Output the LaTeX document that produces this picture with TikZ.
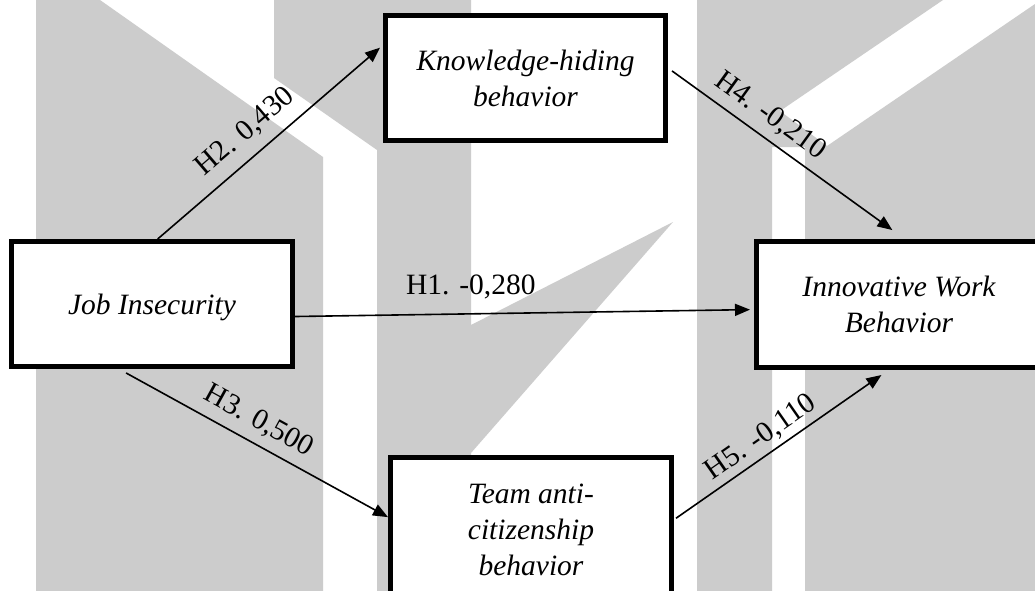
\documentclass[tikz,border=0pt]{standalone}
\usepackage{fontspec}
\setmainfont{Liberation Serif}
\usetikzlibrary{arrows.meta}
\definecolor{wmgray}{HTML}{CCCCCC}
\begin{document}
\begin{tikzpicture}[x=1pt,y=-1pt,
  wm/.style={fill=wmgray, draw=none},
  box/.style={draw, line width=4.8pt, fill=white, align=center, inner sep=0pt,
    font=\fontsize{29.5}{36}\selectfont\itshape},
  link/.style={line width=1.6pt, -{Triangle[length=15pt,width=12pt]}},
  lbl/.style={font=\fontsize{29.5}{36}\selectfont, inner sep=0pt}
]
\useasboundingbox (0,0) rectangle (1035,591);
\fill[white] (0,0) rectangle (1035,591);
% watermark
\fill[wm] (36,0) -- (100,0) -- (323,157) -- (323,591) -- (36,591) -- cycle;
\fill[wm] (274,0) -- (471,0) -- (471,325) -- (673,222) -- (471,453) -- (471,591)
  -- (377,591) -- (377,150) -- (274,78) -- cycle;
\fill[wm] (697,0) -- (943,0) -- (780,111) -- (827,146) -- (1035,4) -- (1035,591)
  -- (805,591) -- (805,147) -- (772,147) -- (772,591) -- (697,591) -- cycle;
% nodes
\node[box, minimum width=281.2pt, minimum height=125.2pt, text depth=0pt] (ji) at (152,304) {Job Insecurity};
\node[box, minimum width=280.2pt, minimum height=125.2pt] (kh) at (525.5,78) {Knowledge-hiding\\behavior};
\node[box, minimum width=285.2pt, minimum height=126.2pt] (iwb) at (899,304.5) {Innovative Work\\Behavior};
\node[box, minimum width=281.2pt, minimum height=144.5pt] (tac) at (531,529.65) {Team anti-\\citizenship\\behavior};
% connectors
\draw[link, shorten >=3.9pt] (ji.85.6) -- (kh.167.9)
  node[lbl, sloped, pos=0.458, yshift=24pt] {H2. 0,430};
\draw[link, shorten >=4pt] (ji.-5.6) -- (iwb.182.1)
  node[lbl, pos=0.383, yshift=27pt] {H1. -0,280};
\draw[link, shorten <=8.2pt] (ji.243.6) -- (tac.175.3)
  node[lbl, sloped, pos=0.48, yshift=21.8pt] {H3. 0,500};
\draw[link, shorten <=4.9pt, shorten >=15.3pt] (kh.4.4) -- (iwb.85.6)
  node[lbl, sloped, pos=0.38, yshift=21.2pt] {H4. -0,210};
\draw[link, shorten <=2.4pt, shorten >=8.8pt] (tac.4.4) -- (iwb.261.5)
  node[lbl, sloped, pos=0.452, yshift=17.5pt] {H5. -0,110};
\end{tikzpicture}
\end{document}
